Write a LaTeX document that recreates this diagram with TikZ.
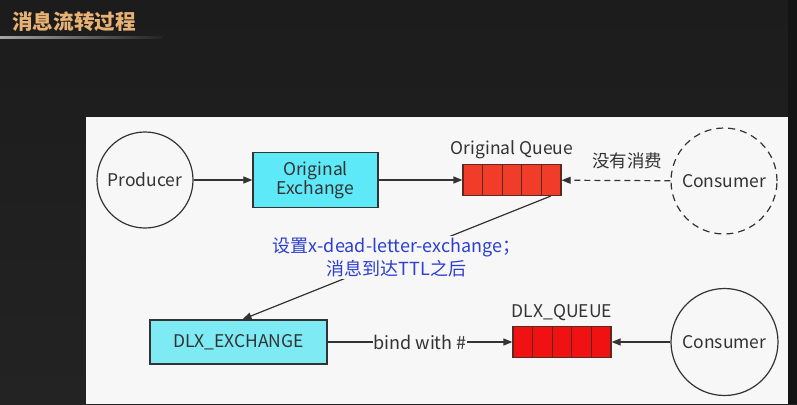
\documentclass[tikz,border=0pt]{standalone}
\usepackage{fontspec}
\setmainfont{Noto Sans CJK SC}
\usetikzlibrary{arrows.meta,calc}
\definecolor{bgdark}{HTML}{232323}
\definecolor{bgedge}{HTML}{141414}
\definecolor{panelc}{HTML}{F7F7F7}
\definecolor{titlec}{HTML}{E8B274}
\definecolor{linec}{HTML}{333333}
\definecolor{cyanA}{HTML}{5EE9F8}
\definecolor{cyanB}{HTML}{7DEAF4}
\definecolor{qredA}{HTML}{F23C2A}
\definecolor{qredB}{HTML}{F01212}
\definecolor{qborder}{HTML}{5A2A22}
\definecolor{labblue}{HTML}{2B3FD0}
\definecolor{textc}{HTML}{333333}
\tikzset{
  conn/.style={draw=linec, line width=1.2pt, -{Triangle[length=9pt,width=7pt]}},
  circnode/.style={circle, draw=linec, line width=1.2pt, minimum size=106pt, inner sep=0pt, text=textc, font=\fontsize{17.5}{20}\selectfont},
  exbox/.style={rectangle, draw=linec, line width=1.3pt, text=textc, font=\fontsize{17.5}{20}\selectfont, align=center, inner sep=0pt},
  queuebox/.style={rectangle, draw=qborder, line width=1.2pt, minimum width=98pt, minimum height=31pt, inner sep=0pt},
  lab/.style={text=textc, font=\fontsize{17.5}{20}\selectfont, inner sep=1pt},
}
\begin{document}
\begin{tikzpicture}[x=1pt,y=-1pt]
\useasboundingbox (0,0) rectangle (797,404);
\shade[top color=bgdark!80!black, bottom color=bgdark] (0,0) rectangle (797,404);
\fill[bgedge] (788,0) rectangle (797,404);
% title
\node[anchor=west, text=titlec, font=\bfseries\fontsize{20.6}{22}\selectfont, inner sep=0pt] (title) at (12,22) {消息流转过程};
\shade[left color=gray!70, right color=bgdark] (0,37) rectangle (162,39);
% panel
\fill[panelc] (86,117) rectangle (788,404);
% nodes
\node[circnode, minimum size=96pt] (prod) at (145,180) {Producer};
\node[exbox, fill=cyanA, minimum width=125pt, minimum height=55pt] (oex) at (315.5,180) {Original\\[-1pt]Exchange};
\node[queuebox, fill=qredA] (oq) at (512,180) {};
\node[lab, anchor=south] (oqlab) at (512,160) {Original Queue};
\node[circnode, dashed, dash pattern=on 7pt off 5pt, minimum size=106pt] (cons1) at (724,181) {Consumer};
\node[exbox, fill=cyanB, minimum width=177pt, minimum height=44pt] (dlx) at (238.5,342) {DLX\_EXCHANGE};
\node[queuebox, fill=qredB] (dq) at (562,342) {};
\node[lab, anchor=south] (dqlab) at (562,322) {DLX\_QUEUE};
\node[circnode, minimum size=107pt] (cons2) at (724.5,342) {Consumer};
% queue cells
\foreach \q in {oq,dq}{
  \foreach \f in {0.2,0.4,0.6,0.8}{
    \draw[draw=qborder, line width=1.1pt] ($(\q.north west)!\f!(\q.north east)$) -- ($(\q.south west)!\f!(\q.south east)$);
  }
}
% connectors
\draw[conn] (prod) -- (oex);
\draw[conn] (oex) -- (oq);
\draw[conn, dashed, dash pattern=on 6pt off 4pt] (cons1) -- (oq);
\node[lab] (nocons) at (627,161) {没有消费};
\coordinate (dlstart) at ($(oq.south west)!0.89!(oq.south east)$);
\draw[conn] (dlstart) -- ($(dlx.north)+(4,0)$) node[pos=0.5, fill=panelc, text=labblue, align=center, font=\fontsize{18}{23}\selectfont, inner sep=2pt] (dllab) {设置x-dead-letter-exchange；\\消息到达TTL之后};
\draw[conn] (dlx) -- (dq) node[midway, fill=panelc, lab, font=\fontsize{18}{20}\selectfont, inner sep=0pt] (bindlab) {bind with \#};
\draw[conn] (cons2) -- (dq);
\end{tikzpicture}
\end{document}
